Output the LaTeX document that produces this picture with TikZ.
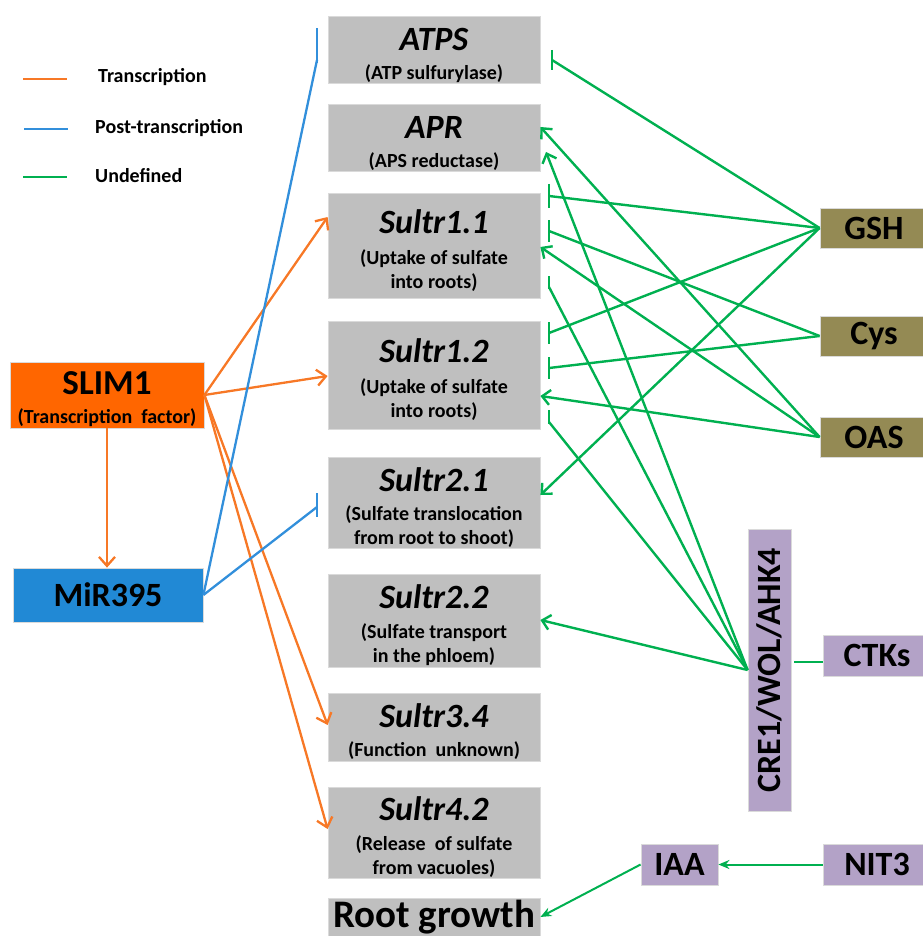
\documentclass[tikz,border=0pt]{standalone}
\usepackage{fontspec}
\setmainfont{Carlito}
\usepackage{graphicx}
\usetikzlibrary{arrows.meta}
\definecolor{boxgray}{RGB}{191,191,191}
\definecolor{boxedge}{RGB}{218,218,218}
\definecolor{slimor}{RGB}{255,102,0}
\definecolor{orline}{RGB}{247,120,38}
\definecolor{mirblue}{RGB}{33,137,213}
\definecolor{blline}{RGB}{50,143,219}
\definecolor{grn}{RGB}{0,176,80}
\definecolor{olivebox}{RGB}{148,138,84}
\definecolor{lilac}{RGB}{179,162,199}
\newcommand\gtitle[1]{{\fontsize{34}{34}\selectfont\bfseries\itshape\rule{0pt}{34pt}#1}}
\newcommand\subfont{\fontsize{20}{24}\selectfont\bfseries}
\newcommand\bigfont{\fontsize{34}{36}\selectfont\bfseries}
\begin{document}
\begin{tikzpicture}[x=1pt,y=-1pt,
  gbox/.style={fill=boxgray, draw=boxedge, line width=0.8pt, minimum width=212pt, inner sep=0pt, align=center, font=\subfont},
  sbox/.style={draw=boxedge, line width=0.8pt, inner sep=0pt, align=center, font=\bigfont},
  olbox/.style={sbox, fill=olivebox, minimum width=108pt, minimum height=40pt},
  lilbox/.style={sbox, fill=lilac, minimum height=41pt},
  gline/.style={draw=grn, line width=2.4pt},
  garr/.style={gline, -{Straight Barb[length=8pt,width=15pt]}},
  gfill/.style={draw=grn, line width=2pt, -{Stealth[length=11pt,width=9pt]}},
  orarr/.style={draw=orline, line width=2.3pt, -{Straight Barb[length=9pt,width=16pt]}},
  bline/.style={draw=blline, line width=2.3pt},
  legtext/.style={anchor=west, font=\fontsize{20}{24}\selectfont\bfseries, inner sep=0pt},
]
\useasboundingbox (0,0) rectangle (922,936);

% legend
\draw[draw=orline, line width=2.6pt] (23,79) -- (67,79);
\node[legtext] (lg1) at (98,77) {Transcription};
\draw[draw=blline, line width=2.6pt] (24,129) -- (68,129);
\node[legtext] (lg2) at (95,128) {Post-transcription};
\draw[draw=grn, line width=2.6pt] (23,177) -- (67,177);
\node[legtext] (lg3) at (95,176) {Undefined};

% gene boxes
\node[gbox, minimum height=67pt] (atps) at (434,49.5) {\gtitle{ATPS}\\[5pt](ATP sulfurylase)};
\node[gbox, minimum height=67pt] (apr) at (434,137.5) {\gtitle{APR}\\[5pt](APS reductase)};
\node[gbox, minimum height=105pt] (s11) at (434,245.5) {\gtitle{Sultr1.1}\\[7pt](Uptake of sulfate\\into roots)};
\node[gbox, minimum height=108pt] (s12) at (434,375) {\gtitle{Sultr1.2}\\[7pt](Uptake of sulfate\\into roots)};
\node[gbox, minimum height=91pt] (s21) at (434,502.5) {\gtitle{Sultr2.1}\\[5pt](Sulfate translocation\\from root to shoot)};
\node[gbox, minimum height=93pt] (s22) at (434,620.5) {\gtitle{Sultr2.2}\\[6pt](Sulfate transport\\in the phloem)};
\node[gbox, minimum height=68pt] (s34) at (434,727) {\gtitle{Sultr3.4}\\[5pt](Function\ \ unknown)};
\node[gbox, minimum height=91pt] (s42) at (434,832.5) {\gtitle{Sultr4.2}\\[6pt](Release\ \ of sulfate\\from vacuoles)};
\node[gbox, minimum height=38pt, font=\fontsize{39}{41}\selectfont\bfseries] (root) at (434,917) {Root growth};

% regulators
\node[sbox, fill=slimor, minimum width=194pt, minimum height=66pt, font=\subfont] (slim) at (107,395) {{\fontsize{35}{36}\selectfont\rule{0pt}{32pt}SLIM1}\\[5pt](Transcription\ \ factor)};
\node[sbox, fill=mirblue, minimum width=190pt, minimum height=54pt] (mir) at (108,595) {MiR395};

\node[olbox] (gsh) at (874,228) {GSH};
\node[olbox] (cys) at (874,336) {Cys};
\node[olbox] (oas) at (874,437) {OAS};
\node[sbox, fill=lilac, minimum width=43pt, minimum height=282pt] (cre) at (769.5,670) {\rotatebox{90}{CRE1/WOL/AHK4}};
\node[lilbox, minimum width=108pt] (ctk) at (877,655.5) {CTKs};
\node[lilbox, minimum width=108pt] (nit) at (877,864.5) {NIT3};
\node[lilbox, minimum width=77pt] (iaa) at (679.5,864.5) {IAA};

% orange (transcription)
\draw[orarr] (slim.east) -- (s11.west |- 0,217);
\draw[orarr] (slim.east) -- (s12.west |- 0,376);
\draw[orarr] (slim.east) -- (s34.west |- 0,725);
\draw[orarr] (slim.east) -- (s42.west |- 0,829);
\draw[orarr] (slim.south) -- (slim.south |- mir.north);

% blue (post-transcription)
\coordinate (batps) at (317,60);
\coordinate (bs21) at (317,507);
\draw[bline] (mir.east) -- (batps);
\draw[bline] ([yshift=-3pt]batps) -- ([yshift=32pt]batps);
\draw[bline] (mir.east) -- (bs21);
\draw[bline] ([yshift=14pt]bs21) -- ([yshift=-10pt]bs21);

% green (undefined)
\coordinate (gAT) at (552,60);
\coordinate (g11a) at (549,196);
\coordinate (g11b) at (549,231);
\coordinate (g11c) at (549,287);
\coordinate (g12a) at (549,333);
\coordinate (g12b) at (549,368);
\coordinate (g12c) at (549,422);
\coordinate (aprB) at (546,152);

\draw[gline] (gsh.west) -- (gAT);
\draw[gline] ([yshift=10pt]gAT) -- ([yshift=-10pt]gAT);
\draw[gline] (gsh.west) -- (g11a);
\draw[gline] ([yshift=12pt]g11a) -- ([yshift=-12pt]g11a);
\draw[gline] (gsh.west) -- (g12a);
\draw[gline] ([yshift=11pt]g12a) -- ([yshift=-11pt]g12a);
\draw[garr] (gsh.west) -- (s21.east |- 0,495);

\draw[gline] (cys.west) -- (g11b);
\draw[gline] ([yshift=11pt]g11b) -- ([yshift=-11pt]g11b);
\draw[gline] (cys.west) -- (g12b);
\draw[gline] ([yshift=11pt]g12b) -- ([yshift=-11pt]g12b);

\draw[garr] (oas.west) -- (apr.east |- 0,127);
\draw[garr] (oas.west) -- (s11.east |- 0,247);
\draw[garr] (oas.west) -- (s12.east |- 0,396);

\draw[garr] (cre.west) -- (aprB);
\draw[gline] (cre.west) -- (g11c);
\draw[gline] ([yshift=11pt]g11c) -- ([yshift=-2pt]g11c);
\draw[gline] (cre.west) -- (g12c);
\draw[gline] ([yshift=12pt]g12c) -- ([yshift=-2pt]g12c);
\draw[garr] (cre.west) -- (s22.east |- 0,620);
\draw[gline, shorten >=3pt] (ctk.west |- 0,662) -- (cre.east |- 0,662);

\draw[gfill] (nit.west) -- (iaa.east);
\draw[gfill] (iaa.west) -- (root.east |- 0,917);
\end{tikzpicture}
\end{document}
